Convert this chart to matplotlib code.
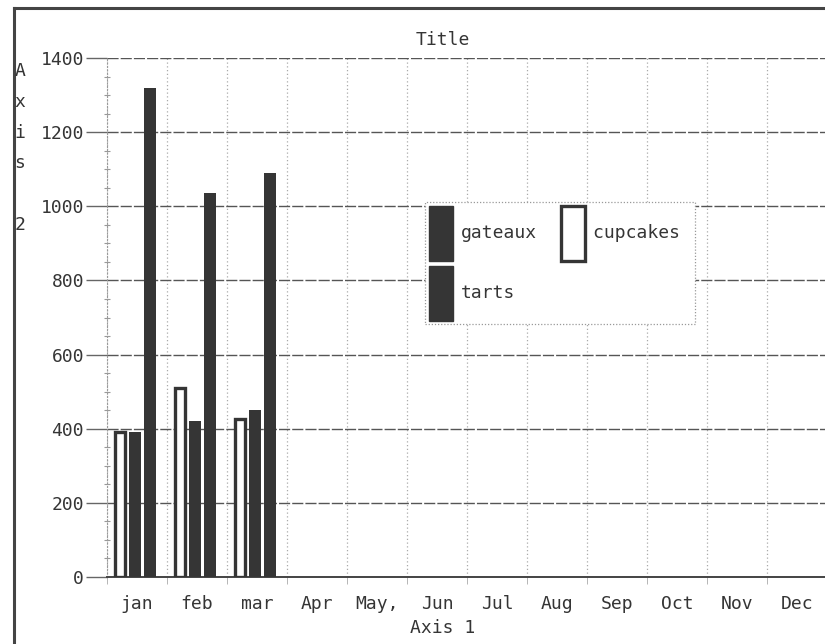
import matplotlib.pyplot as plt
from matplotlib.lines import Line2D
import numpy as np

# values
months = ["jan", "feb", "mar", "Apr", "May,", "Jun", "Jul", "Aug", "Sep", "Oct", "Nov", "Dec"]
cupcakes = [390, 510, 425]
gateaux = [390, 420, 450]
tarts = [1320, 1035, 1090]
yticks = [0, 200, 400, 600, 800, 1000, 1200, 1400]

ink = "#353535"
font = "DejaVu Sans Mono"
plt.rcParams["font.family"] = font
plt.rcParams["text.color"] = ink

W, H = 825, 644
fig = plt.figure(figsize=(W / 100, H / 100), dpi=100)
fig.patch.set_facecolor("white")

# axes box in pixel terms: left 107, right 827, top 58, bottom 577
ax = fig.add_axes([107 / W, (H - 577) / H, 720 / W, 519 / H])
ax.set_xlim(-0.5, 11.5)
ax.set_ylim(0, 1400)

x = np.arange(len(cupcakes))
ax.bar(x - 0.29, cupcakes, width=0.17, facecolor="white", edgecolor=ink, linewidth=2.4, zorder=3)
ax.bar(x - 0.035, gateaux, width=0.21, color=ink, zorder=3)
ax.bar(x + 0.215, tarts, width=0.21, color=ink, zorder=3)

# ticks and grid
ax.set_yticks(yticks)
ax.set_yticklabels([str(v) for v in yticks])
ax.set_yticks(np.arange(0, 1401, 50), minor=True)
ax.tick_params(axis="y", which="major", length=15, width=1, color="#666", pad=1.5,
               labelsize=13, labelcolor=ink)
ax.tick_params(axis="y", which="minor", length=4, width=0.8, color="#999", direction="inout")
ax.set_xticks(range(len(months)))
ax.set_xticklabels(months)
ax.set_xticks(np.arange(-0.5, 12, 1), minor=True)
ax.tick_params(axis="x", which="major", length=0, pad=13, labelsize=13, labelcolor=ink)
ax.tick_params(axis="x", which="minor", length=5, color="#aaa")
ax.grid(axis="y", which="major", color="#555", linestyle=(0, (8, 1.5)), linewidth=1, zorder=1)
ax.grid(axis="x", which="minor", color="#aaa", linestyle=(0, (1, 2)), linewidth=0.9, zorder=1)

for s in ["top", "right"]:
    ax.spines[s].set_visible(False)
ax.spines["left"].set_color("#999")
ax.spines["left"].set_linestyle((0, (1, 2)))
ax.spines["bottom"].set_color("#444")
ax.spines["bottom"].set_linewidth(1.4)

# legend
h_gat = plt.Rectangle((0, 0), 1, 1, facecolor=ink, edgecolor=ink)
h_cup = plt.Rectangle((0, 0), 1, 1, facecolor="white", edgecolor=ink, linewidth=2.4)
h_tar = plt.Rectangle((0, 0), 1, 1, facecolor=ink, edgecolor=ink)
leg = fig.legend([h_gat, h_tar, h_cup], ["gateaux", "tarts", "cupcakes "], ncol=2,
                 loc="upper left", bbox_to_anchor=(425 / W, 1 - 202 / H),
                 borderaxespad=0, borderpad=0.2, handlelength=1.35, handleheight=4.3,
                 handletextpad=0.45, labelspacing=0.3, columnspacing=1.3,
                 fontsize=13, fancybox=False, framealpha=1)
leg.get_frame().set_edgecolor("#999")
leg.get_frame().set_linestyle((0, (1, 1.5)))
leg.get_frame().set_linewidth(0.9)

# titles
fig.text(443 / W, 1 - 40 / H, "Title", ha="center", va="center", fontsize=13)
fig.text(443 / W, 1 - 628 / H, "Axis 1", ha="center", va="center", fontsize=13)
fig.text(20 / W, 1 - 148 / H, "A\nx\ni\ns\n \n2", ha="center", va="center",
         fontsize=13, linespacing=1.9)

# outer frame of the scanned page
fig.add_artist(Line2D([14 / W, 1], [1 - 8 / H, 1 - 8 / H], color="#444", linewidth=2.2))
fig.add_artist(Line2D([14 / W, 14 / W], [0, 1 - 8 / H], color="#444", linewidth=2.2))

fig.savefig("out.png", dpi=100)
